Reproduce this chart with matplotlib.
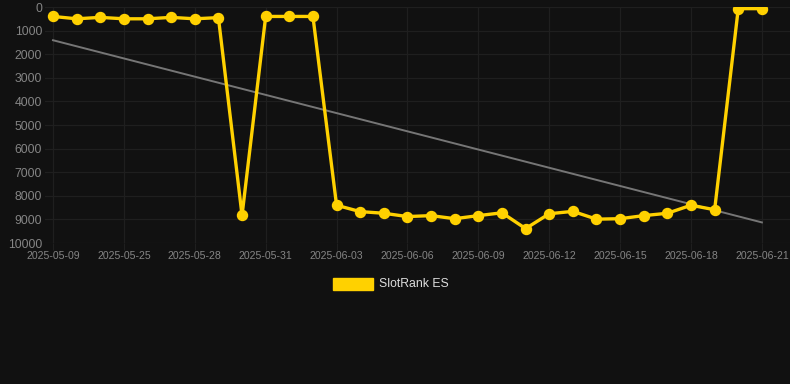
import numpy as np
import matplotlib
matplotlib.use("Agg")
import matplotlib.pyplot as plt

# categories: 31 days (only every 3rd label shows on the axis)
dates = ["2025-05-09", "2025-05-20", "2025-05-22",
         "2025-05-25", "2025-05-26", "2025-05-27", "2025-05-28", "2025-05-29",
         "2025-05-30", "2025-05-31", "2025-06-01", "2025-06-02", "2025-06-03",
         "2025-06-04", "2025-06-05", "2025-06-06", "2025-06-07", "2025-06-08",
         "2025-06-09", "2025-06-10", "2025-06-11", "2025-06-12", "2025-06-13",
         "2025-06-14", "2025-06-15", "2025-06-16", "2025-06-17", "2025-06-18",
         "2025-06-19", "2025-06-20", "2025-06-21"]
rank = [400, 500, 440, 500, 500, 440, 500, 450, 8830, 400, 400, 400,
        8400, 8670, 8740, 8880, 8840, 8970, 8840, 8720, 9390, 8760, 8660,
        8990, 8970, 8840, 8740, 8400, 8590, 70, 70]
series_name = "SlotRank ES"

bg = "#111111"
grid_c = "#1f1f1f"
tick_c = "#858585"
gold = "#ffd100"

plt.rcParams['font.family'] = ['Liberation Sans', 'DejaVu Sans']

fig = plt.figure(figsize=(7.9, 3.84), dpi=100, facecolor=bg)
# plot area in pixels: x 45..790, y 7..243
ax = fig.add_axes([45/790, 1 - 243/384, 745/790, 236/384], facecolor=bg)

x = np.arange(len(dates))
# trend line from a linear fit
k, b = np.polyfit(x, rank, 1)
ax.plot(x, k*x + b, color="#767676", lw=1.4, zorder=2)
ax.plot(x, rank, color=gold, lw=2.4, marker="o", ms=7.2,
        markerfacecolor=gold, markeredgecolor=gold, zorder=3)

step = 23.63
ax.set_xlim(-8/step, (790-53)/step)
ax.set_ylim(10000, 0)
ax.set_yticks(np.arange(0, 10001, 1000))
ax.set_xticks(x[::3])
ax.set_xticklabels(dates[::3])

ax.grid(True, color=grid_c, lw=0.9, zorder=0)
for s in ax.spines.values():
    s.set_visible(False)
ax.tick_params(axis='y', length=0, pad=2, colors=tick_c, labelsize=8.8)
ax.tick_params(axis='x', length=5, color=grid_c, pad=1, colors=tick_c, labelsize=7.6)

# legend
fig.patches.append(plt.Rectangle((333/790, 1 - 290/384), 40/790, 12/384,
                                 transform=fig.transFigure, color=gold))
fig.text(379/790, 1 - 284/384, series_name, color="#dddddd", fontsize=8.8,
         va="center", ha="left")

fig.savefig("out.png", dpi=100, facecolor=bg)
